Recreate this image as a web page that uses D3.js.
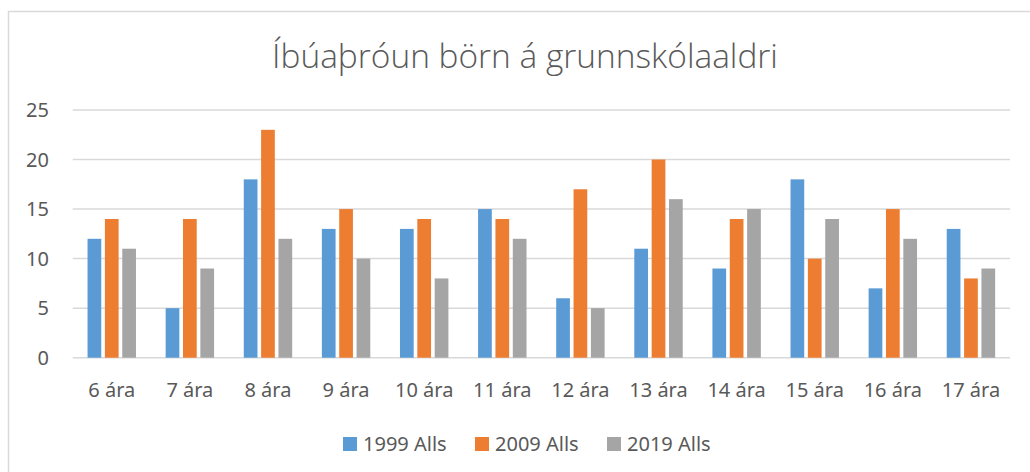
<!DOCTYPE html>
<html><head><meta charset="utf-8">
<script src="https://cdn.jsdelivr.net/npm/d3@7"></script>
<style>
html,body{margin:0;padding:0;background:#fff;}
svg{display:block;font-family:"Noto Sans",sans-serif;}
</style></head>
<body>
<svg id="c" width="1030" height="472"></svg>
<script>
const categories = ["6 ára","7 ára","8 ára","9 ára","10 ára","11 ára","12 ára","13 ára","14 ára","15 ára","16 ára","17 ára"];
const seriesNames = ["1999 Alls","2009 Alls","2019 Alls"];
const values1999 = [12,5,18,13,13,15,6,11,9,18,7,13];
const values2009 = [14,14,23,15,14,14,17,20,14,10,15,8];
const values2019 = [11,9,12,10,8,12,5,16,15,14,12,9];
const yTicks = [0,5,10,15,20,25];
const colors = ["#5B9BD5","#ED7D31","#A5A5A5"];
const title = "Íbúaþróun börn á grunnskólaaldri";

(function(){
const seriesValues = [values1999, values2009, values2019];
const svg = d3.select("#c");

// chart border
svg.append("rect").attr("x",8.5).attr("y",11.5).attr("width",1040).attr("height",480)
  .attr("fill","#fff").attr("stroke","#d9d9d9").attr("stroke-width",1.5);

const pLeft = 72.7, pRight = 1010, pTop = 110, pBottom = 357.7;
const x0 = d3.scaleBand().domain(categories).range([pLeft,pRight]).paddingInner(0.38).paddingOuter(0.19);
const x1 = d3.scaleBand().domain(seriesNames).range([0,x0.bandwidth()]).paddingInner(0.21).paddingOuter(0);
const y = d3.scaleLinear().domain([0,25]).range([pBottom,pTop]);

// gridlines
svg.append("g").selectAll("line").data(yTicks).join("line")
  .attr("x1",pLeft).attr("x2",pRight).attr("y1",d=>y(d)).attr("y2",d=>y(d))
  .attr("stroke","#d9d9d9").attr("stroke-width",1.5);

// y labels
svg.append("g").selectAll("text").data(yTicks).join("text")
  .attr("x",49).attr("y",d=>y(d)).attr("dy","0.35em").attr("text-anchor","end")
  .attr("font-size",20).attr("fill","#595959").text(d=>d);

// bars
const g = svg.append("g");
categories.forEach((c,i)=>{
  seriesNames.forEach((s,j)=>{
    const v = seriesValues[j][i];
    g.append("rect").attr("x",x0(c)+x1(s)).attr("width",x1.bandwidth())
      .attr("y",y(v)).attr("height",y(0)-y(v)).attr("fill",colors[j]);
  });
});

// x labels
svg.append("g").selectAll("text").data(categories).join("text")
  .attr("x",d=>x0(d)+x0.bandwidth()/2).attr("y",396.5).attr("text-anchor","middle")
  .attr("font-size",20).attr("fill","#595959").text(d=>d);

// title
const t = svg.append("text").attr("x",525).attr("y",68).attr("text-anchor","middle")
  .attr("font-family","'Open Sans',sans-serif").attr("font-weight",300)
  .attr("font-size",32).attr("fill","#595959").text(title);
const tw = t.node().getComputedTextLength();
t.attr("font-size", Math.min(34, 32*506/tw));

// legend
const legX = [343,475,607];
const leg = svg.append("g").selectAll("g").data(seriesNames).join("g")
  .attr("transform",(d,i)=>`translate(${legX[i]},0)`);
leg.append("rect").attr("x",0).attr("y",437).attr("width",14).attr("height",14).attr("fill",(d,i)=>colors[i]);
leg.append("text").attr("x",20).attr("y",450.5).attr("font-size",20).attr("fill","#595959").text(d=>d);
})();
</script>
</body></html>
